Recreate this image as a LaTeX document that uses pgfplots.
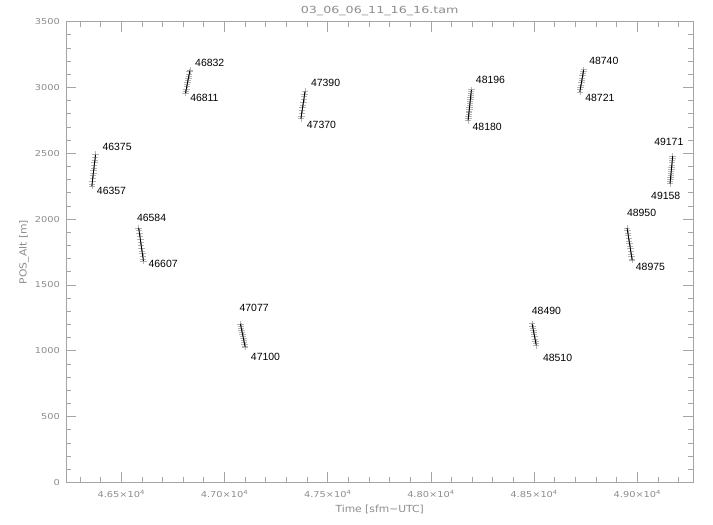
\documentclass[border=0pt]{standalone}
\usepackage{fontspec}
\setmainfont{Liberation Sans}
\newfontfamily\idlA[FakeStretch=1.2]{DejaVu Sans}
\newfontfamily\idlB[FakeStretch=1.1]{DejaVu Sans}
\newfontfamily\idlC[FakeStretch=1.3]{DejaVu Sans}
\usepackage{pgfplots}
\usepackage{pgfplotstable}
\pgfplotsset{compat=1.18}
\definecolor{axgrey}{RGB}{165,165,165}
\definecolor{txtgrey}{RGB}{140,140,140}
\definecolor{markgrey}{RGB}{180,180,180}

\pgfplotstableread[row sep=\\]{
t alt\\
46357 2250\\ 46358.5 2268\\ 46360 2291\\ 46361.5 2309\\ 46363 2331\\ 46364.5 2352\\ 46366 2369\\ 46367.5 2390\\ 46369 2412\\ 46370.5 2429\\ 46372 2451\\ 46373.5 2470\\ 46375 2490\\
nan nan\\
46584 1933\\ 46586 1912\\ 46588 1890\\ 46590 1869\\ 46592 1846\\ 46594 1826\\ 46596 1803\\ 46598 1781\\ 46600 1760\\ 46602 1738\\ 46604 1715\\ 46606 1695\\ 46607 1682\\
nan nan\\
46811 2958\\ 46813 2974\\ 46815 2990\\ 46817 3006\\ 46819 3022\\ 46821 3040\\ 46823 3056\\ 46825 3072\\ 46827 3088\\ 46829 3103\\ 46831 3120\\ 46832 3128\\
nan nan\\
47077 1204\\ 47079 1189\\ 47081 1173\\ 47083 1158\\ 47085 1143\\ 47087 1128\\ 47089 1112\\ 47091 1097\\ 47093 1082\\ 47095 1067\\ 47097 1052\\ 47099 1037\\ 47100 1029\\
nan nan\\
47370 2763\\ 47372 2784\\ 47374 2805\\ 47376 2826\\ 47378 2847\\ 47380 2867\\ 47382 2888\\ 47384 2909\\ 47386 2930\\ 47388 2950\\ 47390 2971\\
nan nan\\
48180 2751\\ 48181 2765\\ 48182 2780\\ 48183 2794\\ 48184 2809\\ 48185 2823\\ 48186 2838\\ 48187 2852\\ 48188 2867\\ 48189 2881\\ 48190 2896\\ 48191 2910\\ 48192 2925\\ 48193 2939\\ 48194 2954\\ 48195 2968\\ 48196 2983\\
nan nan\\
48490 1206\\ 48492 1190\\ 48494 1174\\ 48496 1157\\ 48498 1141\\ 48500 1124\\ 48502 1108\\ 48504 1091\\ 48506 1075\\ 48508 1058\\ 48510 1042\\
nan nan\\
48721 2966\\ 48723 2984\\ 48725 3002\\ 48727 3020\\ 48729 3037\\ 48731 3055\\ 48733 3073\\ 48735 3090\\ 48737 3108\\ 48739 3126\\ 48740 3135\\
nan nan\\
48950 1933\\ 48952 1913\\ 48954 1894\\ 48956 1874\\ 48958 1855\\ 48960 1835\\ 48962 1815\\ 48964 1796\\ 48966 1776\\ 48968 1757\\ 48970 1737\\ 48972 1717\\ 48974 1698\\ 48975 1688\\
nan nan\\
49158 2269\\ 49159 2285\\ 49160 2301\\ 49161 2317\\ 49162 2333\\ 49163 2350\\ 49164 2365\\ 49165 2381\\ 49166 2398\\ 49167 2413\\ 49168 2430\\ 49169 2446\\ 49170 2462\\ 49171 2478\\
}\track

\begin{document}
\begin{tikzpicture}
\begin{axis}[
  name=ax,
  scale only axis, width=627.3bp, height=460.8bp,
  xmin=46232, xmax=49271, ymin=0, ymax=3500,
  scaled x ticks=false, scaled y ticks=false,
  axis line style={axgrey, line width=0.8bp},
  every tick/.style={axgrey, line width=0.8bp},
  major tick length=10bp, minor tick length=5bp,
  tick align=inside,
  xtick={46500,47000,47500,48000,48500,49000},
  xticklabels={4.65×10\textsuperscript{4},4.70×10\textsuperscript{4},4.75×10\textsuperscript{4},4.80×10\textsuperscript{4},4.85×10\textsuperscript{4},4.90×10\textsuperscript{4}},
  minor xtick={46300,46400,...,49200},
  ytick={0,500,...,3500},
  yticklabels={0,500,1000,1500,2000,2500,3000,3500},
  minor ytick={100,200,...,3400},
  ticklabel style={font=\idlA\fontsize{8.2}{9}\selectfont, text=txtgrey, inner sep=0pt},
  xticklabel style={anchor=north, yshift=-8bp},
  yticklabel style={anchor=east, xshift=-6bp},
  unbounded coords=jump,
  clip=false,
  clip marker paths=true,
]
\addplot[only marks, mark=+, mark size=3.2bp, markgrey, mark options={line width=0.55bp}] table[x=t,y=alt] {\track};
\addplot[black, line width=0.9bp, no marks] table[x=t,y=alt] {\track};

\begin{scope}[every node/.style={anchor=base west, inner sep=0pt, font=\fontsize{10.5}{12}\selectfont}]
\node at (axis cs:46408,2518) {46375};
\node at (axis cs:46381,2184) {46357};
\node at (axis cs:46575,1986) {46584};
\node at (axis cs:46631,1631) {46607};
\node at (axis cs:46857,3163) {46832};
\node at (axis cs:46833,2892) {46811};
\node at (axis cs:47418,3006) {47390};
\node at (axis cs:47398,2690) {47370};
\node at (axis cs:47072,1297) {47077};
\node at (axis cs:47127,923) {47100};
\node at (axis cs:48217,3027) {48196};
\node at (axis cs:48201,2677) {48180};
\node at (axis cs:48488,1277) {48490};
\node at (axis cs:48542,917) {48510};
\node at (axis cs:48766,3176) {48740};
\node at (axis cs:48747,2892) {48721};
\node at (axis cs:48949,2019) {48950};
\node at (axis cs:48992,1609) {48975};
\node at (axis cs:49081,2556) {49171};
\node at (axis cs:49066,2146) {49158};
\end{scope}
\end{axis}
\node[anchor=base, inner sep=0pt, text=txtgrey, font=\idlC\fontsize{9.8}{11}\selectfont] at ([yshift=7.7bp]ax.north) {03\_06\_06\_11\_16\_16.tam};
\node[anchor=base, inner sep=0pt, text=txtgrey, font=\idlB\fontsize{9.8}{11}\selectfont] at ([yshift=-29.8bp]ax.south) {Time [sfm−UTC]};
\node[anchor=base, rotate=90, inner sep=0pt, text=txtgrey, font=\idlB\fontsize{9.8}{11}\selectfont] at ([xshift=-39.3bp]ax.west) {POS\_Alt [m]};
\pgfresetboundingbox
\useasboundingbox ([xshift=-66bp,yshift=-42.5bp]ax.south west) rectangle ([xshift=19.7bp,yshift=21.7bp]ax.north east);
\end{tikzpicture}
\end{document}
